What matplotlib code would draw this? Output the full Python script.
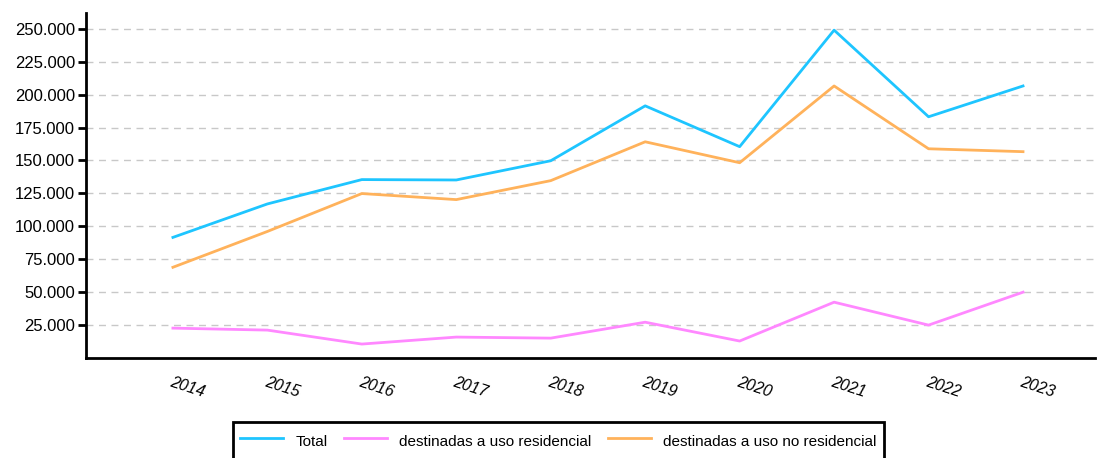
import matplotlib
matplotlib.use("Agg")
import matplotlib.pyplot as plt
from matplotlib.ticker import FuncFormatter

plt.rcParams['font.family'] = ['Liberation Sans', 'DejaVu Sans']

years = [2014, 2015, 2016, 2017, 2018, 2019, 2020, 2021, 2022, 2023]
total = [91600, 117000, 135500, 135200, 149800, 191500, 160500, 249000, 183200, 206600]
residencial = [22700, 21200, 10600, 15900, 15100, 27200, 12900, 42400, 25000, 50000]
no_residencial = [68900, 96100, 124900, 120300, 134700, 164200, 148300, 206600, 158900, 156700]
yticks = [25000, 50000, 75000, 100000, 125000, 150000, 175000, 200000, 225000, 250000]

labels = ["Total", "destinadas a uso residencial", "destinadas a uso no residencial"]
colors = ["#1ec5ff", "#ff88ff", "#ffb25b"]

fig = plt.figure(figsize=(10.97, 4.58), dpi=100)
ax = fig.add_axes([0.0784, 0.2183, 0.9196, 0.7533])

for ys, lab, c in zip([total, residencial, no_residencial], labels, colors):
    ax.plot(years, ys, color=c, lw=2, label=lab)

ax.set_xlim(2014 - 0.92, 2023 + 0.76)
ax.set_ylim(0, 262000)
ax.set_yticks(yticks)
ax.yaxis.set_major_formatter(FuncFormatter(lambda v, p: f"{int(v):,}".replace(",", ".")))
ax.set_xticks(years)
ax.set_xticklabels([str(y) for y in years], rotation=-18, style='italic', fontsize=11.5,
                   ha='left', rotation_mode='anchor')
ax.tick_params(axis='x', length=0, pad=12)
ax.tick_params(axis='y', length=6, width=2, labelsize=12, pad=2)

ax.grid(axis='y', color='#c8c8c8', linestyle=(0, (5, 4)), lw=1)
ax.set_axisbelow(True)
for s in ['top', 'right']:
    ax.spines[s].set_visible(False)
for s in ['left', 'bottom']:
    ax.spines[s].set_linewidth(2)
    ax.spines[s].set_color('black')

leg = fig.legend(loc='upper center', bbox_to_anchor=(0.509, 0.079), ncol=3, frameon=True,
                 fancybox=False, edgecolor='black', framealpha=1, fontsize=11,
                 handlelength=2.8, handleheight=2.0, columnspacing=1.1,
                 borderpad=0.5, borderaxespad=0)
leg.get_frame().set_linewidth(2)

fig.savefig("out.png", dpi=100)
